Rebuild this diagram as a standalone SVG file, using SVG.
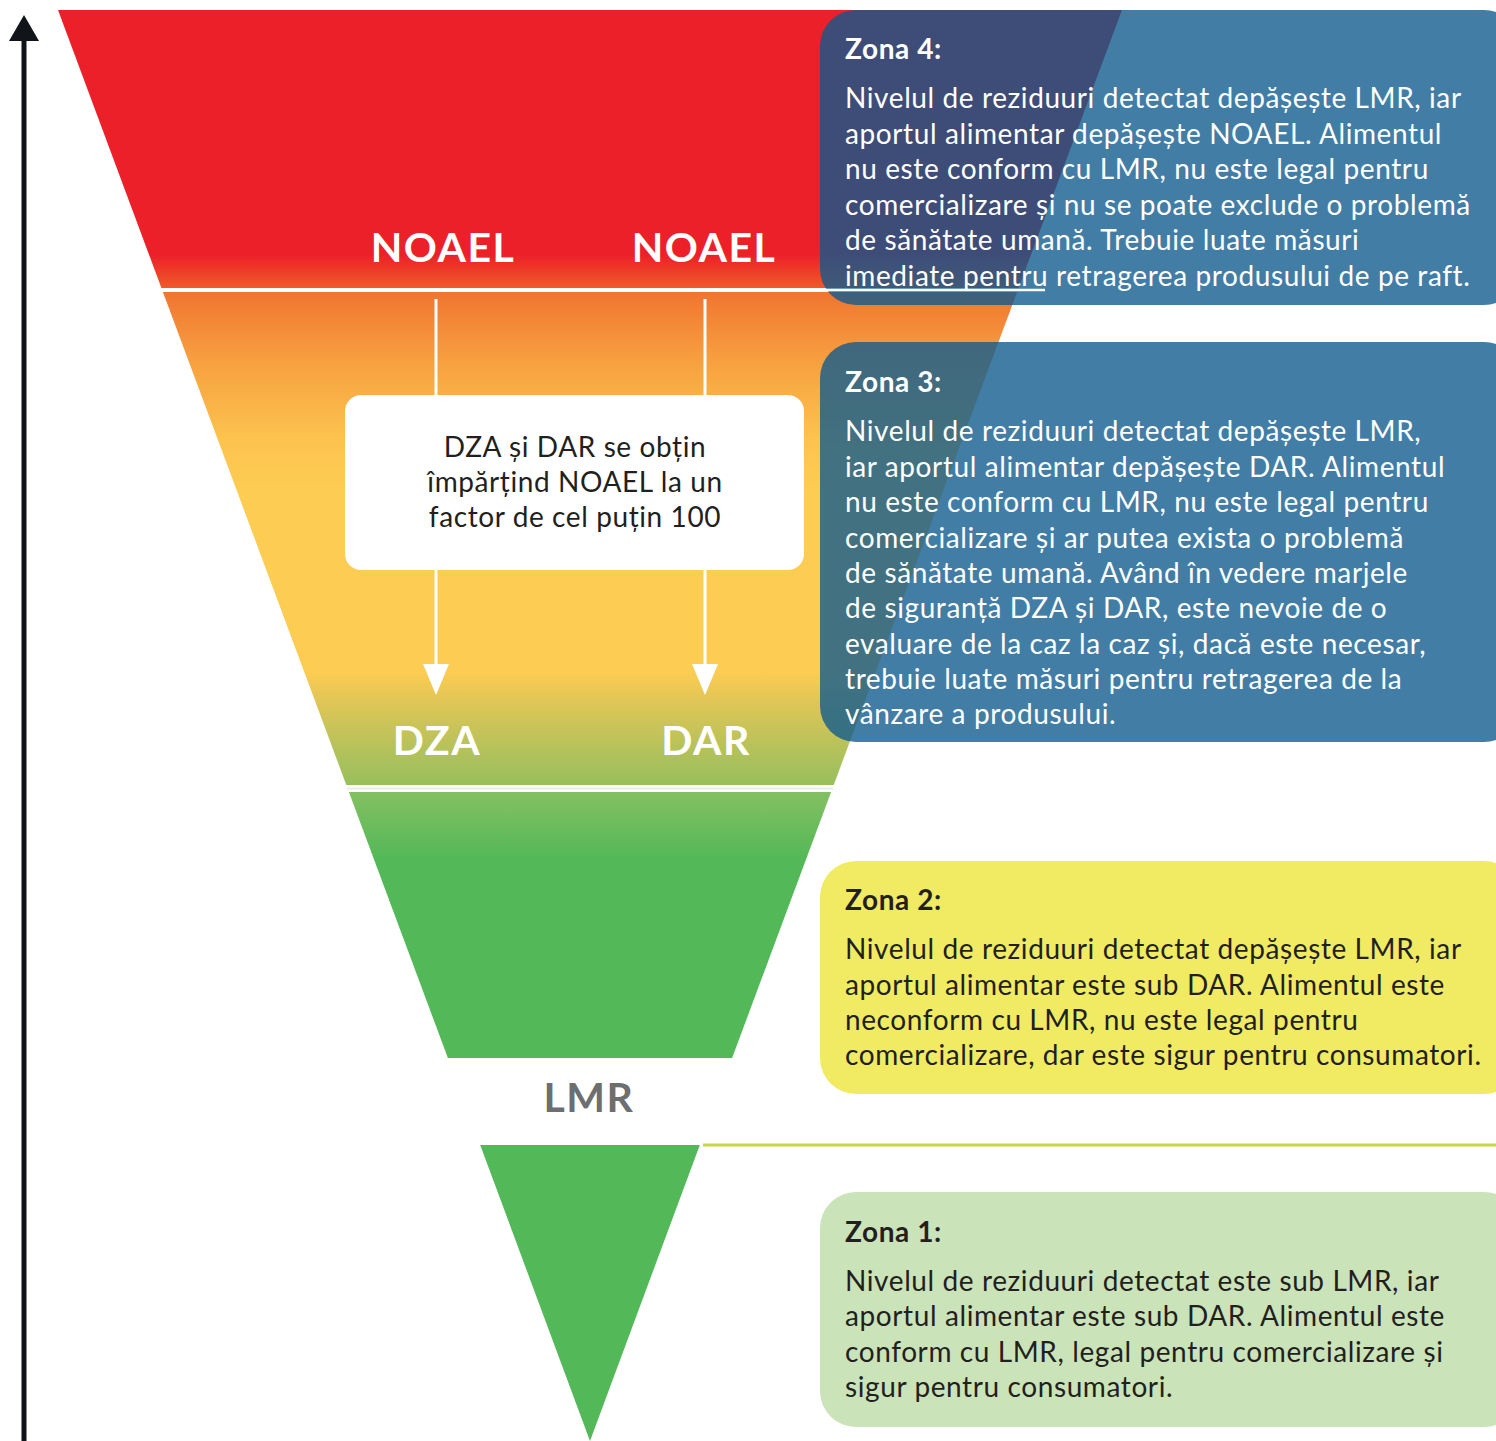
<svg xmlns="http://www.w3.org/2000/svg" width="1496" height="1441" viewBox="0 0 1496 1441">
<style>
.t{font-family:Lato,"Noto Sans","Liberation Sans",sans-serif;font-size:28px;letter-spacing:0.6px}
.w{fill:#ffffff}
.d{fill:#231f20}
.h{font-weight:bold}
.big{font-family:Lato,"Noto Sans","Liberation Sans",sans-serif;font-weight:bold;font-size:41px;letter-spacing:1.5px;fill:#ffffff;text-anchor:middle}
.wl{stroke:#ffffff;stroke-width:3;fill:none}
</style>
<defs>
<linearGradient id="gTop" gradientUnits="userSpaceOnUse" x1="0" y1="10" x2="0" y2="288">
<stop offset="0" stop-color="#ec2028"/>
<stop offset="0.88" stop-color="#ec2028"/>
<stop offset="1" stop-color="#f05a29"/>
</linearGradient>
<linearGradient id="gMid" gradientUnits="userSpaceOnUse" x1="0" y1="292" x2="0" y2="785">
<stop offset="0" stop-color="#f07531"/>
<stop offset="0.14" stop-color="#f7a040"/>
<stop offset="0.3" stop-color="#fcc34e"/>
<stop offset="0.4" stop-color="#fdcc52"/>
<stop offset="0.77" stop-color="#fdcc52"/>
<stop offset="0.83" stop-color="#e0c656"/>
<stop offset="0.92" stop-color="#b8c25a"/>
<stop offset="1" stop-color="#98bf5c"/>
</linearGradient>
<linearGradient id="gGreen" gradientUnits="userSpaceOnUse" x1="0" y1="792" x2="0" y2="860">
<stop offset="0" stop-color="#84c062"/>
<stop offset="1" stop-color="#53b857"/>
</linearGradient>
</defs>
<g id="axis">
<line x1="24" y1="1441" x2="24" y2="38" stroke="#111418" stroke-width="5"/>
<polygon points="9,41 39,41 24,15" fill="#111418"/>
</g>
<g id="pyramid">
<polygon points="58,10 1122,10 1018.6,288 161.4,288" fill="url(#gTop)"/>
<polygon points="162.9,292 1017.1,292 833.7,785 346.3,785" fill="url(#gMid)"/>
<line x1="347" y1="788.5" x2="833" y2="788.5" stroke="#e6f0dc" stroke-width="2"/>
<polygon points="348.9,792 831.1,792 732.1,1058 447.9,1058" fill="url(#gGreen)"/>
<polygon points="480.2,1145 699.8,1145 590,1441" fill="#53b857"/>
</g>
<g id="labels">
<text class="big" x="443" y="262">NOAEL</text>
<text class="big" x="704" y="262">NOAEL</text>
<text class="big" x="437" y="755">DZA</text>
<text class="big" x="706" y="755">DAR</text>
<text class="big" x="589" y="1112" style="fill:#6d6e70">LMR</text>
</g>
<g id="connectors">
<line class="wl" x1="436" y1="299" x2="436" y2="396"/>
<line class="wl" x1="705" y1="299" x2="705" y2="396"/>
<line class="wl" x1="436" y1="569" x2="436" y2="668"/>
<line class="wl" x1="705" y1="569" x2="705" y2="668"/>
<polygon points="423,664 449,664 436,695" fill="#ffffff"/>
<polygon points="692,664 718,664 705,695" fill="#ffffff"/>
</g>
<g id="note">
<rect x="345" y="395" width="459" height="175" rx="16" fill="#ffffff"/>
<text class="t d" text-anchor="middle" x="575" y="457">DZA și DAR se obțin</text>
<text class="t d" text-anchor="middle" x="575" y="492">împărțind NOAEL la un</text>
<text class="t d" text-anchor="middle" x="575" y="527">factor de cel puțin 100</text>
</g>
<g id="zona4">
<rect x="820" y="10" width="700" height="295" rx="36" fill="#0f5a8e" fill-opacity="0.79"/>
<text class="t w h" x="845" y="59">Zona 4:</text>
<text class="t w" x="845" y="108">Nivelul de reziduuri detectat depășește LMR, iar</text>
<text class="t w" x="845" y="143.5">aportul alimentar depășește NOAEL. Alimentul</text>
<text class="t w" x="845" y="179">nu este conform cu LMR, nu este legal pentru</text>
<text class="t w" x="845" y="214.5">comercializare și nu se poate exclude o problemă</text>
<text class="t w" x="845" y="250">de sănătate umană. Trebuie luate măsuri</text>
<text class="t w" x="845" y="285.5">imediate pentru retragerea produsului de pe raft.</text>
</g>
<line x1="820" y1="290" x2="1045" y2="290" stroke="#ffffff" stroke-width="2.5"/>
<g id="zona3">
<rect x="820" y="342" width="700" height="400" rx="36" fill="#0f5a8e" fill-opacity="0.79"/>
<text class="t w h" x="845" y="392">Zona 3:</text>
<text class="t w" x="845" y="441">Nivelul de reziduuri detectat depășește LMR,</text>
<text class="t w" x="845" y="476.5">iar aportul alimentar depășește DAR. Alimentul</text>
<text class="t w" x="845" y="512">nu este conform cu LMR, nu este legal pentru</text>
<text class="t w" x="845" y="547.5">comercializare și ar putea exista o problemă</text>
<text class="t w" x="845" y="583">de sănătate umană. Având în vedere marjele</text>
<text class="t w" x="845" y="618">de siguranță DZA și DAR, este nevoie de o</text>
<text class="t w" x="845" y="653.5">evaluare de la caz la caz și, dacă este necesar,</text>
<text class="t w" x="845" y="689">trebuie luate măsuri pentru retragerea de la</text>
<text class="t w" x="845" y="724">vânzare a produsului.</text>
</g>
<g id="zona2">
<rect x="820" y="861" width="700" height="233" rx="36" fill="#f0eb62"/>
<text class="t d h" x="845" y="910">Zona 2:</text>
<text class="t d" x="845" y="959">Nivelul de reziduuri detectat depășește LMR, iar</text>
<text class="t d" x="845" y="994.5">aportul alimentar este sub DAR. Alimentul este</text>
<text class="t d" x="845" y="1030">neconform cu LMR, nu este legal pentru</text>
<text class="t d" x="845" y="1065">comercializare, dar este sigur pentru consumatori.</text>
</g>
<line x1="703" y1="1145" x2="1496" y2="1145" stroke="#c4d844" stroke-width="3"/>
<g id="zona1">
<rect x="820" y="1192" width="700" height="235" rx="36" fill="#cbe3b9"/>
<text class="t d h" x="845" y="1242">Zona 1:</text>
<text class="t d" x="845" y="1291">Nivelul de reziduuri detectat este sub LMR, iar</text>
<text class="t d" x="845" y="1326">aportul alimentar este sub DAR. Alimentul este</text>
<text class="t d" x="845" y="1362">conform cu LMR, legal pentru comercializare și</text>
<text class="t d" x="845" y="1397">sigur pentru consumatori.</text>
</g>
</svg>
